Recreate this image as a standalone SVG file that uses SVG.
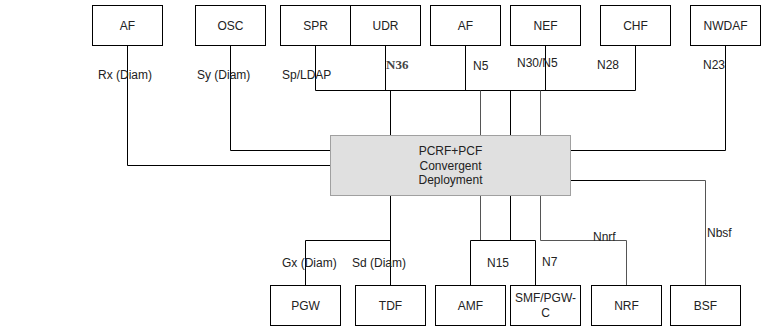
<svg xmlns="http://www.w3.org/2000/svg" width="767" height="331" viewBox="0 0 767 331">
<style>
.box{fill:#fff;stroke:#000;stroke-width:1}
.main{fill:#e0e0e0;stroke:#a0a0a0;stroke-width:1}
.t{font-family:"Liberation Sans",Arial,sans-serif;font-size:12px;fill:#222;text-anchor:middle}
.l{font-family:"Liberation Sans",Arial,sans-serif;font-size:12px;fill:#222}
.s{font-family:"Liberation Serif","Times New Roman",serif;font-size:13px;fill:#444;font-weight:bold}
.c{fill:none;stroke:#000;stroke-width:1}
.g{fill:none;stroke:#555;stroke-width:1}
</style>
<rect width="767" height="331" fill="#fff"/>
<g id="connectors">
<path class="c" d="M127.5,45V165.5H330"/>
<path class="c" d="M230.5,45V150.5H330"/>
<path class="c" d="M315.5,45V90.5H635.5V45"/>
<path class="c" d="M385.5,45V90.5"/>
<path class="c" d="M465.5,45V90.5"/>
<path class="c" d="M545.5,45V90.5"/>
<path class="c" d="M390.5,90.5V135"/>
<path class="g" d="M480.5,90.5V135"/>
<path class="c" d="M510.5,90.5V135"/>
<path class="g" d="M540.5,90.5V135"/>
<path class="c" d="M725.5,45V150.5H570"/>
<path class="c" d="M570,180.5H640"/>
<path class="g" d="M640,180.5H705.5V285"/>
<path class="c" d="M390.5,195V285"/>
<path class="c" d="M390.5,240.5H305.5V285"/>
<path class="g" d="M480.5,195V240.5"/>
<path class="c" d="M470.5,285V240.5H535.5V285"/>
<path class="c" d="M510.5,195V240.5"/>
<path class="g" d="M540.5,195V240.5H626.5V285"/>
</g>
<g id="AF1"><rect class="box" x="92.5" y="5.5" width="70" height="40"/><text class="t" x="127.5" y="29.5">AF</text></g>
<g id="OSC"><rect class="box" x="195.5" y="5.5" width="70" height="40"/><text class="t" x="230.5" y="29.5">OSC</text></g>
<g id="SPR"><rect class="box" x="280.5" y="5.5" width="70" height="40"/><text class="t" x="315.5" y="29.5">SPR</text></g>
<g id="UDR"><rect class="box" x="350.5" y="5.5" width="70" height="40"/><text class="t" x="385.5" y="29.5">UDR</text></g>
<g id="AF2"><rect class="box" x="430.5" y="5.5" width="70" height="40"/><text class="t" x="465.5" y="29.5">AF</text></g>
<g id="NEF"><rect class="box" x="510.5" y="5.5" width="70" height="40"/><text class="t" x="545.5" y="29.5">NEF</text></g>
<g id="CHF"><rect class="box" x="600.5" y="5.5" width="70" height="40"/><text class="t" x="635.5" y="29.5">CHF</text></g>
<g id="NWDAF"><rect class="box" x="690.5" y="5.5" width="70" height="40"/><text class="t" x="725.5" y="29.5">NWDAF</text></g>
<g id="PCRF"><rect class="main" x="330.5" y="135.5" width="240" height="60"/>
<text class="t" x="450.5" y="155">PCRF+PCF</text><text class="t" x="450.5" y="169.5">Convergent</text><text class="t" x="450.5" y="184">Deployment</text></g>
<g id="PGW"><rect class="box" x="270.5" y="285.5" width="70" height="40"/><text class="t" x="305.5" y="309.5">PGW</text></g>
<g id="TDF"><rect class="box" x="355.5" y="285.5" width="70" height="40"/><text class="t" x="390.5" y="309.5">TDF</text></g>
<g id="AMF"><rect class="box" x="435.5" y="285.5" width="70" height="40"/><text class="t" x="470.5" y="309.5">AMF</text></g>
<g id="SMF"><rect class="box" x="510.5" y="285.5" width="70" height="40"/><text class="t" x="545.5" y="301.5">SMF/PGW-</text><text class="t" x="545.5" y="317">C</text></g>
<g id="NRF"><rect class="box" x="591.5" y="285.5" width="70" height="40"/><text class="t" x="626.5" y="309.5">NRF</text></g>
<g id="BSF"><rect class="box" x="670.5" y="285.5" width="70" height="40"/><text class="t" x="705.5" y="309.5">BSF</text></g>
<g id="labels">
<text class="l" x="98" y="79">Rx (Diam)</text>
<text class="l" x="197" y="79">Sy (Diam)</text>
<text class="l" x="282" y="79">Sp/LDAP</text>
<text class="s" x="386" y="69">N36</text>
<text class="l" x="473" y="70">N5</text>
<text class="l" x="517" y="67">N30/N5</text>
<text class="l" x="597" y="69">N28</text>
<text class="l" x="703" y="69">N23</text>
<text class="l" x="282" y="267">Gx (Diam)</text>
<text class="l" x="352" y="267">Sd (Diam)</text>
<text class="l" x="487" y="267">N15</text>
<text class="l" x="542" y="266">N7</text>
<text class="l" x="593" y="241">Nnrf</text>
<text class="l" x="707" y="237">Nbsf</text>
</g>
</svg>
